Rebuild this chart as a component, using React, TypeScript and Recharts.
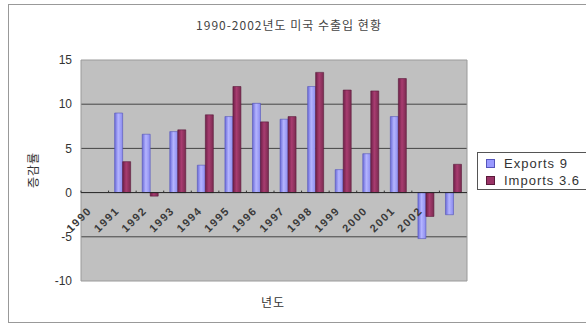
import React from 'react';
import { BarChart, Bar, XAxis, YAxis, CartesianGrid, ReferenceLine, ReferenceArea, Legend } from 'recharts';

// category labels along the zero line (last group has no label in the source)
const years = ['1990', '1991', '1992', '1993', '1994', '1995', '1996', '1997', '1998', '1999', '2000', '2001', '2002', ''];
const exportsValues = [null, 9.0, 6.6, 6.9, 3.1, 8.6, 10.1, 8.3, 12.0, 2.6, 4.4, 8.6, -5.2, -2.5];
const importsValues = [null, 3.5, -0.4, 7.1, 8.8, 12.0, 8.0, 8.6, 13.6, 11.6, 11.5, 12.9, -2.7, 3.2];
const yTicks = [-10, -5, 0, 5, 10, 15];

const EXPORTS_NAME = 'Exports 9';
const IMPORTS_NAME = 'Imports 3.6';

const W = 586;
const H = 326;
const MARGIN = { top: 60, right: 119, left: 51, bottom: 15 };
const Y_AXIS_W = 30;
const X_AXIS_H = 30;
const PLOT_H = H - MARGIN.top - MARGIN.bottom - X_AXIS_H;
const PLOT_W = W - MARGIN.left - MARGIN.right - Y_AXIS_W;
const Y_MIN = -10;
const Y_MAX = 15;

const FONT = '"Liberation Sans", Arial, "Noto Sans CJK KR", sans-serif';
const KFONT = '"Noto Sans CJK KR", "Liberation Sans", sans-serif';

const data = years.map((year, i) => ({
    year,
    exports: exportsValues[i],
    imports: importsValues[i],
}));

// x tick drawn at the zero line instead of the bottom of the plot
const YearTick = (props: any) => {
    const { x, y, payload } = props;
    const zeroY = y - (PLOT_H * (0 - Y_MIN)) / (Y_MAX - Y_MIN);
    const band = PLOT_W / years.length;
    return (
        <g>
            <line x1={x - band / 2} x2={x - band / 2} y1={zeroY - 2} y2={zeroY} stroke="#333" />
            <g transform={`translate(${x - 5},${zeroY + 16}) rotate(-45)`}>
                <text x={0} y={0} dy="0.35em" textAnchor="end" fontSize={11} fontWeight="bold" fill="#3a3a3a" fontFamily={FONT} letterSpacing={1.5}>
                    {payload.value}
                </text>
            </g>
        </g>
    );
};

const LegendBox = () => (
    <div style={{ border: '1px solid #555', background: '#fff', width: 120, height: 38, boxSizing: 'border-box', paddingTop: 2, fontFamily: FONT, fontSize: 13, color: '#333', letterSpacing: 1, textAlign: 'left' }}>
        {[{ name: EXPORTS_NAME, fill: '#9999FF', edge: '#5555BB' }, { name: IMPORTS_NAME, fill: '#993366', edge: '#5a1a3a' }].map((item) => (
            <div key={item.name} style={{ display: 'flex', alignItems: 'center', height: 17 }}>
                <span style={{ display: 'inline-block', width: 7, height: 7, background: item.fill, border: `1px solid ${item.edge}`, marginLeft: 8, marginRight: 9 }} />
                <span style={{ whiteSpace: 'nowrap' }}>{item.name}</span>
            </div>
        ))}
    </div>
);

export default function App() {
    return (
        <div style={{ position: 'absolute', left: 0, top: 0, width: W, height: H, background: '#fff', overflow: 'hidden' }}>
            <div style={{ position: 'absolute', left: 8, top: 4, width: 600, height: 319, border: '1px solid #999', boxSizing: 'border-box' }} />
            <div style={{ position: 'absolute', left: 0, top: 0 }}>
                <BarChart width={W} height={H} data={data} margin={MARGIN} barCategoryGap="22%" barGap={0}>
                    <defs>
                        <linearGradient id="expGrad" x1="0" y1="0" x2="1" y2="0">
                            <stop offset="0%" stopColor="#6A6AD8" />
                            <stop offset="45%" stopColor="#B4B4FF" />
                            <stop offset="100%" stopColor="#8A8AEE" />
                        </linearGradient>
                        <linearGradient id="impGrad" x1="0" y1="0" x2="1" y2="0">
                            <stop offset="0%" stopColor="#6E2048" />
                            <stop offset="45%" stopColor="#A83C70" />
                            <stop offset="100%" stopColor="#7A2A50" />
                        </linearGradient>
                    </defs>
                    <CartesianGrid fill="#C0C0C0" vertical={false} horizontal={true} horizontalValues={[-5, 5, 10]} stroke="#444" strokeWidth={1} />
                    <ReferenceArea y1={Y_MIN} y2={Y_MAX} fill="none" stroke="#9a9a9a" strokeWidth={1} />
                    <XAxis
                        dataKey="year"
                        height={X_AXIS_H}
                        axisLine={false}
                        tickLine={false}
                        tickSize={0}
                        tickMargin={0}
                        interval={0}
                        tick={<YearTick />}
                    />
                    <YAxis
                        width={Y_AXIS_W}
                        domain={[Y_MIN, Y_MAX]}
                        ticks={yTicks}
                        allowDataOverflow
                        axisLine={false}
                        tickLine={false}
                        tickSize={0}
                        tickMargin={9}
                        tick={{ fontSize: 12, fill: '#333', fontFamily: FONT }}
                    />
                    <ReferenceLine y={0} stroke="#222" strokeWidth={1} />
                    <Bar dataKey="exports" name={EXPORTS_NAME} fill="url(#expGrad)" stroke="#5555BB" strokeWidth={0.6} isAnimationActive={false} />
                    <Bar dataKey="imports" name={IMPORTS_NAME} fill="url(#impGrad)" stroke="#5a1a3a" strokeWidth={0.6} isAnimationActive={false} />
                    <Legend
                        layout="horizontal"
                        verticalAlign="middle"
                        align="center"
                        content={<LegendBox />}
                        wrapperStyle={{ position: 'absolute', left: 477, top: 152, width: 120, height: 38 }}
                    />
                </BarChart>
            </div>
            <div style={{ position: 'absolute', left: 189, top: 16, width: 200, textAlign: 'center', fontFamily: KFONT, fontSize: 12, color: '#444', whiteSpace: 'nowrap', letterSpacing: 1 }}>
                1990-2002년도 미국 수출입 현황
            </div>
            <div style={{ position: 'absolute', left: 233, top: 293, width: 80, textAlign: 'center', fontFamily: KFONT, fontSize: 12, color: '#333', letterSpacing: 1 }}>
                년도
            </div>
            <div style={{ position: 'absolute', left: 32, top: 170, transform: 'translate(-50%, -50%) rotate(-90deg)', fontFamily: KFONT, fontSize: 12, color: '#333', whiteSpace: 'nowrap', letterSpacing: 1 }}>
                증감률
            </div>
        </div>
    );
}
